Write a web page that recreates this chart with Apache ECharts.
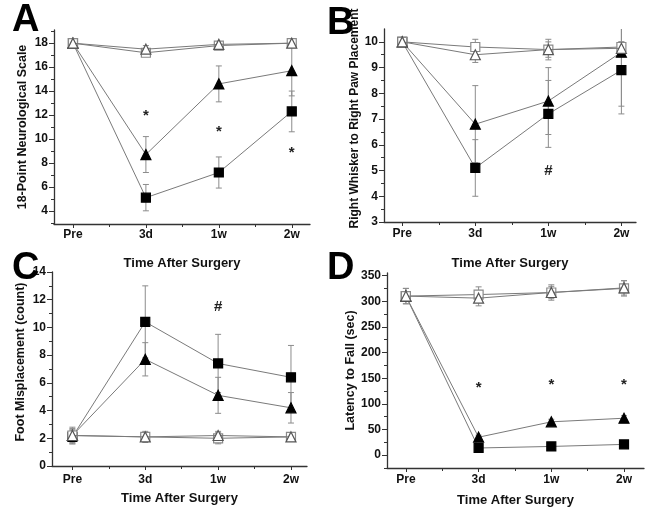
<!DOCTYPE html>
<html>
<head>
<meta charset="utf-8">
<script src="https://cdn.jsdelivr.net/npm/echarts@6/dist/echarts.min.js"></script>
<style>
html,body{margin:0;padding:0;background:#fff;}
#charts{width:647px;height:509px;}
</style>
</head>
<body>
<div id="charts"></div>
<script>
var FONT = 'Liberation Sans, Arial, sans-serif';
var xLabels = ['Pre', '3d', '1w', '2w'];
var xPos = [0, 1, 2, 3];
var xMinor = [0.5, 1.5, 2.5];

// A - 18-point neurological scale
var aSq = [18, 5.1, 7.2, 12.3],      aSqErr = [0, 1.1, 1.3, 1.7];
var aTri = [18, 8.7, 14.6, 15.7],    aTriErr = [0, 1.5, 1.5, 2.1];
var aOSq = [18, 17.2, 17.8, 18],     aOSqErr = [0, 0.2, 0.3, 0];
var aOTri = [18, 17.5, 17.9, 18],    aOTriErr = [0, 0.3, 0.2, 0];
var aStars = [[1, 11.9], [2, 10.6], [3, 8.8]];

// B - right whisker to right paw placement
var bSq = [10, 5.1, 7.2, 8.9],       bSqErr = [0, 1.1, 1.3, 1.7];
var bTri = [10, 6.8, 7.7, 9.6],      bTriErr = [0, 1.5, 1.3, 2.1];
var bOSq = [10, 9.8, 9.7, 9.8],      bOSqErr = [0, 0.3, 0.4, 0.2];
var bOTri = [10, 9.5, 9.7, 9.75],    bOTriErr = [0, 0.3, 0.3, 0.25];
var bHash = [[2, 5.0]];

// C - foot misplacement
var cSq = [2.1, 10.4, 7.4, 6.4],     cSqErr = [0.5, 2.6, 2.1, 2.3];
var cTri = [2.2, 7.7, 5.1, 4.2],     cTriErr = [0.6, 1.2, 1.3, 1.1];
var cOSq = [2.2, 2.1, 2.0, 2.1],     cOSqErr = [0.4, 0.3, 0.4, 0.3];
var cOTri = [2.2, 2.1, 2.2, 2.1],    cOTriErr = [0.5, 0.4, 0.3, 0.3];
var cHash = [[2, 11.5]];

// D - latency to fall
var dSq = [310, 14, 17, 21],         dSqErr = [0, 3, 3, 3];
var dTri = [310, 35, 65, 72],        dTriErr = [0, 4, 5, 5];
var dOSq = [310, 313, 317, 325],     dOSqErr = [15, 15, 15, 15];
var dOTri = [310, 306, 317, 326],    dOTriErr = [15, 15, 12, 14];
var dStars = [[1, 132], [2, 137], [3, 137]];

// y ticks
var aMajor = [4, 6, 8, 10, 12, 14, 16, 18], aMinor = [3, 5, 7, 9, 11, 13, 15, 17, 19];
var bMajor = [3, 4, 5, 6, 7, 8, 9, 10], bMinor = [3.5, 4.5, 5.5, 6.5, 7.5, 8.5, 9.5];
var cMajor = [0, 2, 4, 6, 8, 10, 12, 14], cMinor = [1, 3, 5, 7, 9, 11, 13];
var dMajor = [0, 50, 100, 150, 200, 250, 300, 350], dMinor = [-25, 25, 75, 125, 175, 225, 275, 325];

var panels = [
  {grid: {left: 54, top: 30, width: 256, height: 194}, xMin: -0.26, xMax: 3.25, yMin: 2.9, yMax: 19.1,
   major: aMajor, minor: aMinor, yName: '18-Point Neurological Scale', yGap: 25, yPad: 0, yFont: 12.5, xGap: 33, labMargin: 5,
   sets: [[aSq, aSqErr], [aTri, aTriErr], [aOSq, aOSqErr], [aOTri, aOTriErr]], marks: aStars, markText: '*'},
  {grid: {left: 384, top: 29, width: 252, height: 193}, xMin: -0.25, xMax: 3.2, yMin: 3, yMax: 10.5,
   major: bMajor, minor: bMinor, yName: 'Right Whisker to Right Paw Placement', yGap: 20, yPad: 14, yFont: 12, xGap: 35, labMargin: 6,
   sets: [[bSq, bSqErr], [bTri, bTriErr], [bOSq, bOSqErr], [bOTri, bOTriErr]], marks: bHash, markText: '#'},
  {grid: {left: 52, top: 272, width: 255, height: 194}, xMin: -0.28, xMax: 3.22, yMin: 0, yMax: 14,
   major: cMajor, minor: cMinor, yName: 'Foot Misplacement (count)', yGap: 25, yPad: 14, yFont: 12.5, xGap: 26, labMargin: 8,
   sets: [[cSq, cSqErr], [cTri, cTriErr], [cOSq, cOSqErr], [cOTri, cOTriErr]], marks: cHash, markText: '#'},
  {grid: {left: 387, top: 273, width: 257, height: 195}, xMin: -0.26, xMax: 3.275, yMin: -25, yMax: 355,
   major: dMajor, minor: dMinor, yName: 'Latency to Fall (sec)', yGap: 30, yPad: 0, yFont: 12.5, xGap: 26, labMargin: 6,
   sets: [[dSq, dSqErr], [dTri, dTriErr], [dOSq, dOSqErr], [dOTri, dOTriErr]], marks: dStars, markText: '*'}
];

// marker looks: filled square, filled triangle, open square, open triangle
var looks = [
  {symbol: 'rect', size: 9, fill: '#000', border: '#000'},
  {symbol: 'triangle', size: 10, fill: '#000', border: '#000'},
  {symbol: 'rect', size: 9, fill: '#fff', border: '#8a8a8a'},
  {symbol: 'triangle', size: 10, fill: '#fff', border: '#555'}
];

function errRender(params, api){
  var x = api.value(0), y = api.value(1), e = api.value(2);
  if(!e){
    return;
  }
  var cs = params.coordSys;
  var top = api.coord([x, y + e]);
  var bot = api.coord([x, y - e]);
  var yTop = Math.max(top[1], cs.y);
  var yBot = Math.min(bot[1], cs.y + cs.height);
  var st = {stroke: '#8c8c8c', lineWidth: 1};
  var kids = [{type: 'line', shape: {x1: top[0], y1: yTop, x2: top[0], y2: yBot}, style: st}];
  if(top[1] >= cs.y){
    kids.push({type: 'line', shape: {x1: top[0] - 3, y1: top[1], x2: top[0] + 3, y2: top[1]}, style: st});
  }
  if(bot[1] <= cs.y + cs.height){
    kids.push({type: 'line', shape: {x1: bot[0] - 3, y1: bot[1], x2: bot[0] + 3, y2: bot[1]}, style: st});
  }
  return {type: 'group', children: kids};
}

function markRender(txt){
  return function(params, api){
    var p = api.coord([api.value(0), api.value(1)]);
    return {type: 'text', x: p[0], y: p[1],
      style: {text: txt, align: 'center', verticalAlign: 'middle', font: 'bold 15px ' + FONT, fill: '#222'}};
  };
}

var option = {
  animation: false,
  backgroundColor: '#fff',
  grid: [], xAxis: [], yAxis: [], series: [],
  graphic: []
};

for(var i = 0; i < panels.length; i++){
  var p = panels[i];
  var g = p.grid;
  option.grid.push({left: g.left, top: g.top, width: g.width, height: g.height, outerBoundsMode: 'none', containLabel: false});
  // main x axis
  option.xAxis.push({
    gridIndex: i, type: 'value', min: p.xMin, max: p.xMax, position: 'bottom',
    axisLine: {show: true, onZero: false, lineStyle: {color: '#333', width: 1.3}},
    axisTick: {show: true, length: 4, customValues: xPos, lineStyle: {color: '#333'}},
    axisLabel: {customValues: xPos, margin: p.labMargin, color: '#111', fontWeight: 'bold', fontSize: 12, fontFamily: FONT,
      formatter: function(v){ return xLabels[Math.round(v)]; }},
    splitLine: {show: false},
    name: 'Time After Surgery', nameLocation: 'middle', nameGap: p.xGap,
    nameTextStyle: {color: '#111', fontWeight: 'bold', fontSize: 13, fontFamily: FONT}
  });
  // minor x ticks
  option.xAxis.push({
    gridIndex: i, type: 'value', min: p.xMin, max: p.xMax, position: 'bottom', offset: 0,
    axisLine: {show: false, onZero: false},
    axisTick: {show: true, length: 3, customValues: xMinor, lineStyle: {color: '#333'}},
    axisLabel: {show: false}, splitLine: {show: false}
  });
  // main y axis
  option.yAxis.push({
    gridIndex: i, type: 'value', min: p.yMin, max: p.yMax, position: 'left',
    axisLine: {show: true, onZero: false, lineStyle: {color: '#333', width: 1.3}},
    axisTick: {show: true, length: 5, customValues: p.major, lineStyle: {color: '#333'}},
    axisLabel: {customValues: p.major, margin: 6, color: '#111', fontWeight: 'bold', fontSize: 12, fontFamily: FONT},
    splitLine: {show: false},
    name: p.yName, nameLocation: 'middle', nameGap: p.yGap,
    nameTextStyle: {color: '#111', fontWeight: 'bold', fontSize: p.yFont, fontFamily: FONT, padding: [0, 0, 0, p.yPad]}
  });
  // minor y ticks
  option.yAxis.push({
    gridIndex: i, type: 'value', min: p.yMin, max: p.yMax, position: 'left', offset: 0,
    axisLine: {show: false, onZero: false},
    axisTick: {show: true, length: 3, customValues: p.minor, lineStyle: {color: '#333'}},
    axisLabel: {show: false}, splitLine: {show: false}
  });

  // error bars first so markers sit on top
  for(var k = 0; k < p.sets.length; k++){
    var vals = p.sets[k][0], errs = p.sets[k][1];
    var eData = [];
    for(var j = 0; j < xPos.length; j++){
      eData.push([xPos[j], vals[j], errs[j]]);
    }
    option.series.push({
      type: 'custom', xAxisIndex: 2 * i, yAxisIndex: 2 * i, z: 1,
      renderItem: errRender, data: eData, silent: true
    });
  }
  for(var k = 0; k < p.sets.length; k++){
    var vals = p.sets[k][0];
    var lData = [];
    for(var j = 0; j < xPos.length; j++){
      lData.push([xPos[j], vals[j]]);
    }
    var lk = looks[k];
    option.series.push({
      type: 'line', xAxisIndex: 2 * i, yAxisIndex: 2 * i, z: 2 + k,
      data: lData, symbol: lk.symbol, symbolSize: lk.size, showSymbol: true,
      lineStyle: {color: '#7a7a7a', width: 1},
      itemStyle: {color: lk.fill, borderColor: lk.border, borderWidth: 1.2, opacity: 1}
    });
  }
  option.series.push({
    type: 'custom', xAxisIndex: 2 * i, yAxisIndex: 2 * i, z: 10,
    renderItem: markRender(p.markText), data: p.marks, silent: true
  });
}

// panel letters
var letters = [['A', 12, 2], ['B', 327, 5], ['C', 12, 250], ['D', 327, 250]];
for(var i = 0; i < letters.length; i++){
  option.graphic.push({
    type: 'text', left: letters[i][1], top: letters[i][2], z: 20,
    style: {text: letters[i][0], font: 'bold 38px ' + FONT, fill: '#000'}
  });
}

var charts = echarts.init(document.getElementById('charts'));
charts.setOption(option);
</script>
</body>
</html>
